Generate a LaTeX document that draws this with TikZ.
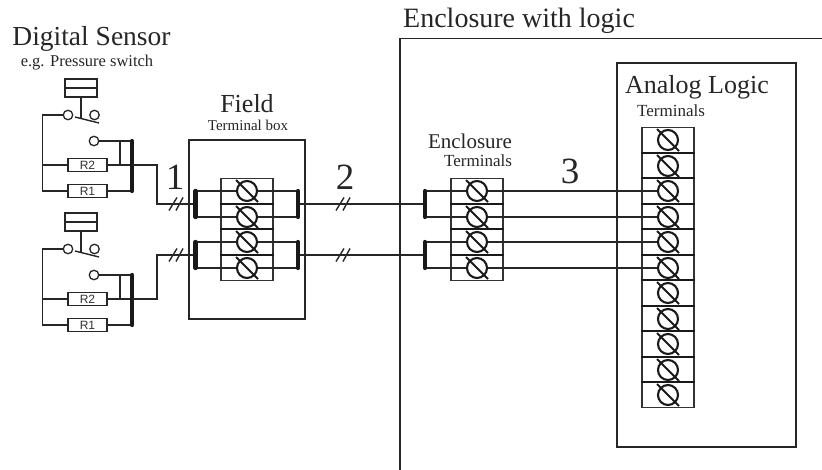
\documentclass[tikz,border=0pt]{standalone}
\usepackage{fontspec}
\setmainfont{Liberation Serif}
\setsansfont{Liberation Sans}

\begin{document}
\begin{tikzpicture}[x=1pt,y=-1pt]
\tikzstyle{titre}=[anchor=base,inner sep=0,text=black!85,font=\fontsize{26}{26}\selectfont]
\tikzstyle{soustitre}=[anchor=base,inner sep=0,text=black!85,font=\fontsize{16.5}{16.5}\selectfont]
\tikzstyle{numero}=[anchor=base,inner sep=0,text=black!85,font=\fontsize{37}{37}\selectfont]
\tikzstyle{boite}=[draw=black!85,line width=1.3pt]
\tikzstyle{fil}=[draw=black!85,line width=1.4pt]
\tikzstyle{barre}=[draw=black!90,line width=4.3pt,line cap=round]
\tikzstyle{contact}=[draw=black!85,circle,fill=white,line width=1.3pt,minimum size=9.5pt,inner sep=0]
\tikzstyle{resistance}=[draw=black!85,fill=white,line width=1.3pt,minimum width=39pt,minimum height=13pt,inner sep=0,font=\sffamily\fontsize{12}{12}\selectfont,text=black!80]
\tikzstyle{vis}=[draw=black!90,circle,line width=2.1pt,minimum size=20pt,inner sep=0]
\tikzstyle{bornier}=[draw=black!80,line width=1.1pt,minimum width=52pt,minimum height=25.5pt,inner sep=0]
\tikzstyle{divise}=[draw=black!90,line width=1.8pt]
\tikzstyle{poussoir}=[draw=black!85,line width=1.3pt,minimum width=32pt,minimum height=9pt,inner sep=0]

% macro for one terminal: name, x, y
\def\borne#1#2#3{
\node[bornier] (#1b) at (#2,#3) {};
\node[vis] (#1) at (#2,#3) {};
\draw[fil,line width=1.9pt,black!90] (#2-11,#3-11) -- (#2+11,#3+11);
}
% same, with a heavy line on its top side
\def\bornes#1#2#3{
\borne{#1}{#2}{#3}
\draw[divise] (#1b.north west) -- (#1b.north east);
}
% macro for the double slash on a wire
\def\barres#1#2{
\draw[fil] (#1-7,#2+6.5) -- (#1+1,#2-6.5);
\draw[fil] (#1,#2+6.5) -- (#1+7,#2-6.5);
}
% macro for one sensor: prefix, vertical shift
\def\capteur#1#2{
\node[poussoir] (#1h) at (81,83.5+#2) {};
\node[poussoir] (#1a) at (81,92.5+#2) {};
\node[contact] (#1c) at (68,115+#2) {};
\node[contact] (#1d) at (94.5,115+#2) {};
\node[contact] (#1e) at (94,141+#2) {};
\node[resistance] (#1r) at (87.5,165+#2) {R2};
\node[resistance] (#1s) at (87.5,191+#2) {R1};
\coordinate (#1g) at (42.5,165+#2);
\coordinate (#1k) at (120,141+#2);
\coordinate (#1m) at (132,141+#2);
\coordinate (#1n) at (132,165+#2);
\coordinate (#1p) at (132,191+#2);
\coordinate (#1q) at (75,117+#2);
\coordinate (#1t) at (99,123+#2);
\coordinate (#1u) at (81,119+#2);
\draw[fil] (#1a.south) -- (#1u);
\draw[fil] (#1q) -- (#1t);
\draw[fil] (#1c) -| (#1g);
\draw[fil] (#1g) -- (#1r);
\draw[fil] (#1g) |- (#1s);
\draw[fil] (#1e) -- (#1m);
\draw[fil] (#1k) |- (#1r);
\draw[fil] (#1s) -- (#1p);
\draw[fil] (#1r) -- (#1n);
\draw[barre] (#1m) -- (#1p);
}

\useasboundingbox (0,0) rectangle (822,470);

\node[titre,font=\fontsize{27.5}{27.5}\selectfont] (capteurt) at (91.5,46) {Digital Sensor};
\node[soustitre] (capteurs) at (87,67) {e.g. Pressure switch};
\node[titre] (fieldt) at (247,113) {Field};
\node[soustitre,font=\fontsize{15}{15}\selectfont] (fields) at (248,131) {Terminal box};
\node[titre,font=\fontsize{21}{21}\selectfont] (enct) at (470,149) {Enclosure};
\node[soustitre,font=\fontsize{17}{17}\selectfont] (encs) at (478,167) {Terminals};
\node[titre] (logt) at (697,94) {Analog Logic};
\node[soustitre,font=\fontsize{17}{17}\selectfont] (logs) at (671,117) {Terminals};
\node[titre,anchor=base west,font=\fontsize{28}{28}\selectfont] (armt) at (403,28) {Enclosure with logic};
\node[numero] (n1) at (175,190) {1};
\node[numero] (n2) at (345,190) {2};
\node[numero] (n3) at (570,184) {3};

% boxes
\coordinate (armhd) at (822,38.5);
\coordinate (armhg) at (400,38.5);
\coordinate (armbg) at (400,470);
\draw[boite] (armhd) -- (armhg) -- (armbg);
\node[boite,draw,minimum width=116pt,minimum height=179pt,inner sep=0] (field) at (247,229.5) {};
\node[boite,draw,minimum width=179pt,minimum height=384pt,inner sep=0] (logic) at (706.5,255) {};

% field terminals
\borne{fa}{247}{191}
\bornes{fb}{247}{217}
\bornes{fc}{247}{242}
\bornes{fd}{247}{268}
% enclosure terminals
\borne{ea}{477}{191}
\bornes{eb}{477}{217}
\bornes{ec}{477}{242}
\bornes{ed}{477}{268}
% logic terminals
\borne{la}{668}{140}
\bornes{lb}{668}{166}
\bornes{lc}{668}{191}
\bornes{ld}{668}{217}
\bornes{le}{668}{242}
\bornes{lf}{668}{268}
\bornes{lg}{668}{293}
\bornes{lh}{668}{319}
\bornes{li}{668}{344}
\bornes{lj}{668}{370}
\bornes{lk}{668}{395}

\capteur{u}{0}
\capteur{v}{134}

% bars
\coordinate (bfa) at (195.5,191);
\coordinate (bfb) at (195.5,217);
\coordinate (bfc) at (195.5,242);
\coordinate (bfd) at (195.5,268);
\coordinate (bga) at (298,191);
\coordinate (bgb) at (298,217);
\coordinate (bgc) at (298,242);
\coordinate (bgd) at (298,268);
\coordinate (bea) at (425,191);
\coordinate (beb) at (425,217);
\coordinate (bec) at (425,242);
\coordinate (bed) at (425,268);
\coordinate (e1) at (157,204);
\coordinate (e2) at (157,255);
\coordinate (f1) at (195.5,204);
\coordinate (f2) at (195.5,255);
\coordinate (g1) at (298,204);
\coordinate (g2) at (298,255);
\coordinate (h1) at (425,204);
\coordinate (h2) at (425,255);

\draw[fil] (un) -| (e1) -- (f1);
\draw[fil] (vn) -| (e2) -- (f2);
\draw[fil] (g1) -- (h1);
\draw[fil] (g2) -- (h2);
\draw[fil] (bfa) -- (fa);
\draw[fil] (bfb) -- (fb);
\draw[fil] (bfc) -- (fc);
\draw[fil] (bfd) -- (fd);
\draw[fil] (fa) -- (bga);
\draw[fil] (fb) -- (bgb);
\draw[fil] (fc) -- (bgc);
\draw[fil] (fd) -- (bgd);
\draw[fil] (bea) -- (ea);
\draw[fil] (beb) -- (eb);
\draw[fil] (bec) -- (ec);
\draw[fil] (bed) -- (ed);
\draw[fil] (ea) -- (lc);
\draw[fil] (eb) -- (ld);
\draw[fil] (ec) -- (le);
\draw[fil] (ed) -- (lf);
\draw[barre] (bfa) -- (bfb);
\draw[barre] (bfc) -- (bfd);
\draw[barre] (bga) -- (bgb);
\draw[barre] (bgc) -- (bgd);
\draw[barre] (bea) -- (beb);
\draw[barre] (bec) -- (bed);

\barres{176}{204}
\barres{176}{255}
\barres{343}{204}
\barres{343}{255}

\end{tikzpicture}
\end{document}
